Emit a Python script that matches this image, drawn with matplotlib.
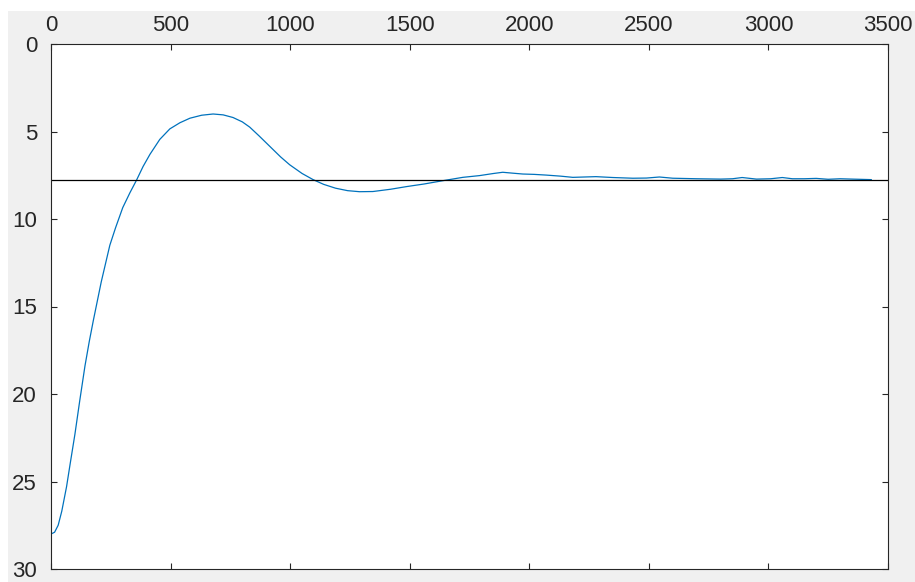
import matplotlib
matplotlib.use("Agg")
import matplotlib.pyplot as plt
from matplotlib.patches import Rectangle

# data
x_vals = [0, 15, 30, 45, 65, 80, 100, 120, 142, 160, 177, 210, 246, 270, 300,
          330, 358, 385, 414, 455, 497, 539, 581, 630, 678, 720, 761, 800, 831,
          870, 915, 960, 998, 1050, 1096, 1140, 1190, 1240, 1290, 1346, 1420,
          1486, 1560, 1639, 1722, 1792, 1850, 1889, 1930, 1973, 2020, 2070, 2130,
          2182, 2230, 2279, 2350, 2433, 2490, 2544, 2600, 2700, 2800, 2850, 2890,
          2950, 3010, 3058, 3100, 3150, 3200, 3250, 3300, 3350, 3430]
y_vals = [28.0, 27.9, 27.5, 26.7, 25.3, 24.0, 22.3, 20.4, 18.4, 17.0, 15.8, 13.6,
          11.5, 10.5, 9.35, 8.5, 7.77, 7.0, 6.3, 5.45, 4.85, 4.5, 4.24, 4.07, 4.0,
          4.05, 4.2, 4.45, 4.75, 5.25, 5.85, 6.45, 6.9, 7.4, 7.75, 8.02, 8.24,
          8.38, 8.44, 8.43, 8.3, 8.15, 8.0, 7.81, 7.62, 7.52, 7.4, 7.33, 7.38,
          7.43, 7.45, 7.49, 7.55, 7.62, 7.6, 7.58, 7.63, 7.67, 7.66, 7.6, 7.67,
          7.7, 7.72, 7.7, 7.63, 7.72, 7.7, 7.63, 7.7, 7.7, 7.68, 7.73, 7.7, 7.72,
          7.75]
ref_level = 7.77
x_ticks = [0, 500, 1000, 1500, 2000, 2500, 3000, 3500]
y_ticks = [0, 5, 10, 15, 20, 25, 30]

W, H = 915, 582
fig = plt.figure(figsize=(W / 100, H / 100), dpi=100, facecolor="white")
fig.patches.append(Rectangle((8 / W, 0), 1 - 8 / W, 1 - 11 / H,
                             transform=fig.transFigure, facecolor="#f0f0f0",
                             edgecolor="none", zorder=-10))

ax = fig.add_axes([51 / W, 1 - 569 / H, (888 - 51) / W, (569 - 44) / H])
ax.set_facecolor("white")
ax.plot(x_vals, y_vals, color="#0072BD", lw=0.9)
ax.axhline(ref_level, color="black", lw=0.9)

ax.set_xlim(0, 3500)
ax.set_ylim(30, 0)
ax.set_xticks(x_ticks)
ax.set_yticks(y_ticks)
ax.xaxis.tick_top()
ax.tick_params(axis="both", direction="in", length=4.5, width=0.8,
               color="#262626", labelcolor="#262626", labelsize=16,
               top=True, bottom=True, left=True, right=True,
               labeltop=True, labelbottom=False, labelleft=True, labelright=False)
ax.tick_params(axis="x", pad=6)
ax.tick_params(axis="y", pad=10)
for lab in ax.get_xticklabels() + ax.get_yticklabels():
    lab.set_fontfamily("Liberation Sans")
for s in ax.spines.values():
    s.set_color("#262626")
    s.set_linewidth(0.8)

fig.savefig("out.png", dpi=100, facecolor=fig.get_facecolor())
